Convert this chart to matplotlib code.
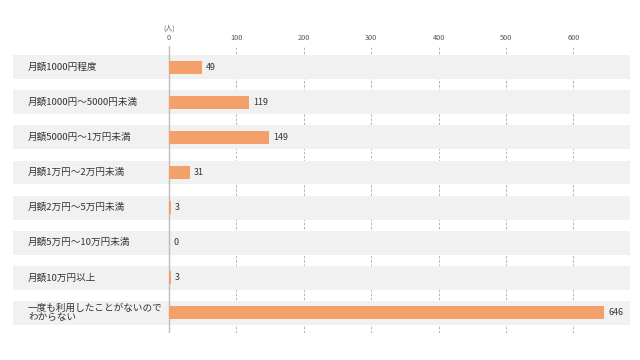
import matplotlib
matplotlib.use('Agg')
import matplotlib.pyplot as plt
from matplotlib.transforms import blended_transform_factory

plt.rcParams['font.family'] = ['Noto Sans CJK JP', 'DejaVu Sans']

categories = ['月額1000円程度', '月額1000円～5000円未満', '月額5000円～1万円未満',
              '月額1万円～2万円未満', '月額2万円～5万円未満', '月額5万円～10万円未満',
              '月額10万円以上', '一度も利用したことがないので\nわからない']
values = [49, 119, 149, 31, 3, 0, 3, 646]
ticks = [0, 100, 200, 300, 400, 500, 600]

bar_color = '#F4A06A'
band_color = '#F1F1F1'

fig = plt.figure(figsize=(6.4, 3.6), dpi=100)
# axes from x=13px to 630px, y=46px to 333px
ax = fig.add_axes([13 / 640, 1 - 333 / 360, (630 - 13) / 640, (333 - 46) / 360])

px_per_unit = 67.4 / 100
ax.set_xlim(-(169 - 13) / px_per_unit, (630 - 169) / px_per_unit)
ax.set_ylim(len(categories) - 1 + 0.57, -0.6)

ypos = list(range(len(categories)))

# dashed grid (behind bands)
for t in ticks[1:]:
    ax.axvline(t, color='#A8A8A8', lw=0.6, ls=(0, (3, 2)), zorder=0)

for y in ypos:
    ax.axhspan(y - 0.34, y + 0.34, color=band_color, lw=0, zorder=1)

ax.axvline(0, color='#BDBDBD', lw=1.0, zorder=2)

ax.barh(ypos, values, height=0.37, color=bar_color, zorder=3)

for y, v in zip(ypos, values):
    ax.text(v + 6, y, str(v), va='center', ha='left', fontsize=6.4, color='#333333', zorder=4)

tr = blended_transform_factory(ax.transAxes, ax.transData)
for y, c in zip(ypos, categories):
    ax.text((28 - 13) / 617, y, c, transform=tr, va='center', ha='left',
            fontsize=6.9, color='#333333', linespacing=1.0)

ax.xaxis.tick_top()
ax.set_xticks(ticks)
ax.set_xticklabels([str(t) for t in ticks])
ax.tick_params(axis='x', length=0, pad=3, labelsize=5.3, labelcolor='#555555')
ax.set_yticks([])
for s in ax.spines.values():
    s.set_visible(False)

ax.text(0, 1.045, '(人)', transform=blended_transform_factory(ax.transData, ax.transAxes),
        ha='center', va='bottom', fontsize=5.0, color='#555555')

fig.savefig('out.png', dpi=100, facecolor='white')
